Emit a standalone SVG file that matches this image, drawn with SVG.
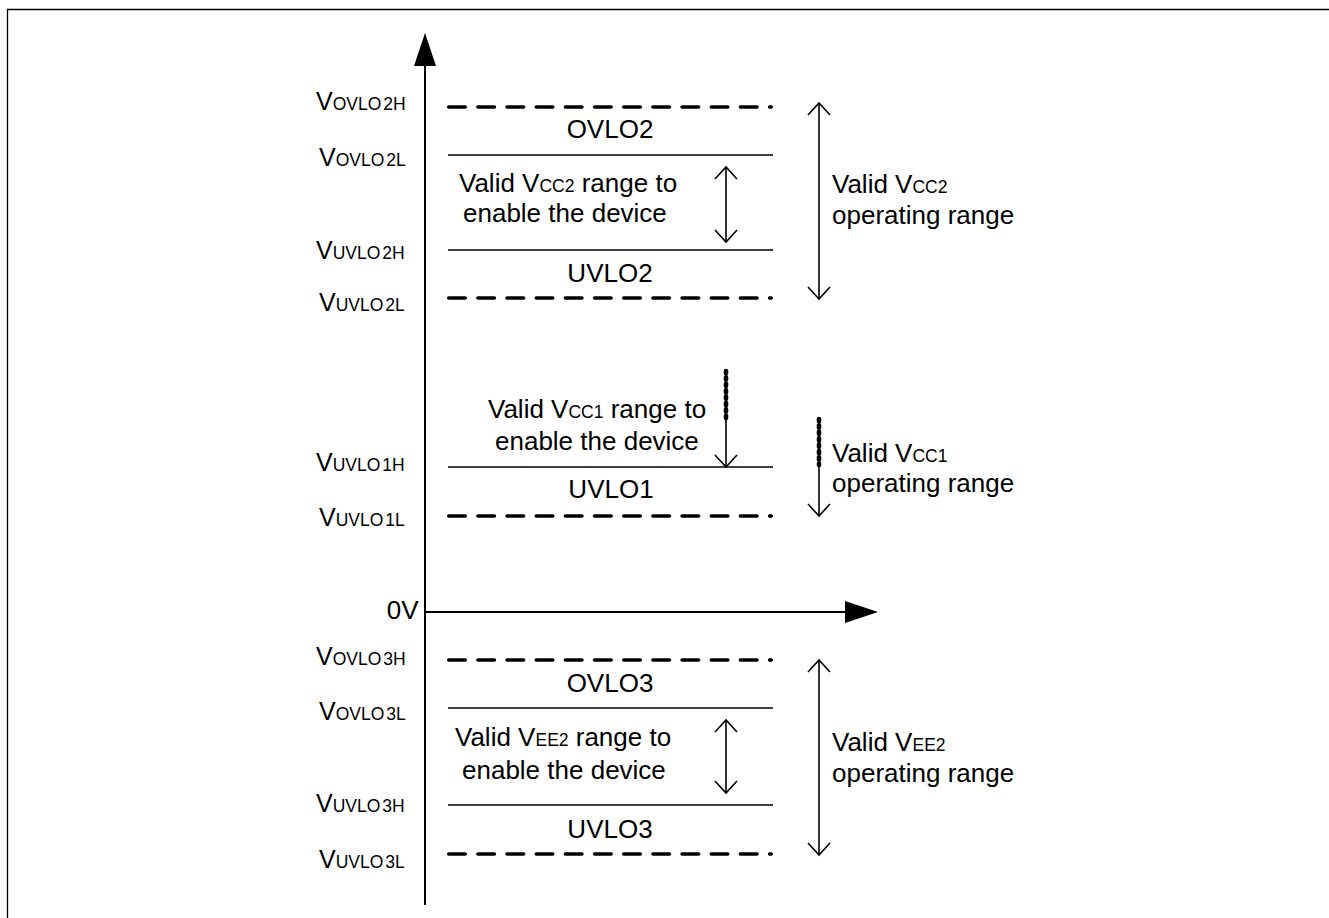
<svg xmlns="http://www.w3.org/2000/svg" width="1329" height="918" viewBox="0 0 1329 918">
<defs>
<style>
text{font-family:"Liberation Sans",Arial,sans-serif;fill:#000}
.t{font-size:26px}
.c{font-size:26px;text-anchor:middle}
.s{font-size:17.5px}
.lv{font-size:25px}
.solid{stroke:#000;stroke-width:1.6;fill:none}
.dash{stroke:#000;stroke-width:3.6;fill:none;stroke-dasharray:16.5 12.67;stroke-linecap:round}
.axis{stroke:#000;stroke-width:2;fill:none}
.arr{stroke:#000;stroke-width:1.6;fill:none}
.beads{stroke:#000;stroke-width:4.6;fill:none;stroke-dasharray:2.2 4.2;stroke-linecap:round}
</style>
<marker id="open" markerUnits="userSpaceOnUse" markerWidth="30" markerHeight="30" viewBox="-15 -15 30 30" refX="0" refY="0" orient="auto-start-reverse" overflow="visible">
<path d="M-12,-11 L0,0 L-12,11" fill="none" stroke="#000" stroke-width="1.6"/>
</marker>
</defs>
<rect width="1329" height="918" fill="#fff"/>
<path d="M7.5,918 V9.5 H1329" fill="none" stroke="#000" stroke-width="1.3"/>

<g id="y-axis">
<line class="axis" x1="425" y1="905" x2="425" y2="64"/>
<polygon points="425,33 414,66 436,66" fill="#000"/>
</g>
<g id="x-axis">
<line class="axis" x1="424" y1="612" x2="846" y2="612"/>
<polygon points="878,612 845,601 845,623" fill="#000"/>
<text class="t" x="418.5" y="619" text-anchor="end">0V</text>
</g>

<g id="vovlo2h">
<line class="dash" x1="448.75" y1="107" x2="771.25" y2="107"/>
<text x="316" y="110"><tspan class="lv">V</tspan><tspan class="s">OVLO</tspan><tspan class="s" dx="2">2H</tspan></text>
</g>
<g id="ovlo2"><text class="c" x="610" y="138">OVLO2</text></g>
<g id="vovlo2l">
<line class="solid" x1="448" y1="155" x2="773" y2="155"/>
<text x="319" y="166"><tspan class="lv">V</tspan><tspan class="s">OVLO</tspan><tspan class="s" dx="2">2L</tspan></text>
</g>
<g id="vcc2-enable">
<text class="t" x="459" y="192">Valid V<tspan class="s">CC2</tspan> range to</text>
<text class="t" x="463" y="222">enable the device</text>
</g>
<g id="vuvlo2h">
<line class="solid" x1="448" y1="250" x2="773" y2="250"/>
<text x="316" y="259"><tspan class="lv">V</tspan><tspan class="s">UVLO</tspan><tspan class="s" dx="2">2H</tspan></text>
</g>
<g id="uvlo2"><text class="c" x="610" y="282">UVLO2</text></g>
<g id="vuvlo2l">
<line class="dash" x1="448.75" y1="298" x2="771.25" y2="298"/>
<text x="319" y="311"><tspan class="lv">V</tspan><tspan class="s">UVLO</tspan><tspan class="s" dx="2">2L</tspan></text>
</g>
<g id="vcc2-operating">
<text class="t" x="832" y="193">Valid V<tspan class="s">CC2</tspan></text>
<text class="t" x="832" y="224">operating range</text>
</g>

<g id="vcc1-enable">
<text class="t" x="488" y="418">Valid V<tspan class="s">CC1</tspan> range to</text>
<text class="t" x="495" y="450">enable the device</text>
</g>
<g id="vuvlo1h">
<line class="solid" x1="448" y1="467" x2="773" y2="467"/>
<text x="316" y="471"><tspan class="lv">V</tspan><tspan class="s">UVLO</tspan><tspan class="s" dx="2">1H</tspan></text>
</g>
<g id="uvlo1"><text class="c" x="611" y="498">UVLO1</text></g>
<g id="vuvlo1l">
<line class="dash" x1="448.75" y1="516" x2="771.25" y2="516"/>
<text x="319" y="526"><tspan class="lv">V</tspan><tspan class="s">UVLO</tspan><tspan class="s" dx="2">1L</tspan></text>
</g>
<g id="vcc1-operating">
<text class="t" x="832" y="462">Valid V<tspan class="s">CC1</tspan></text>
<text class="t" x="832" y="492">operating range</text>
</g>

<g id="vovlo3h">
<line class="dash" x1="448.75" y1="660" x2="771.25" y2="660"/>
<text x="316" y="665"><tspan class="lv">V</tspan><tspan class="s">OVLO</tspan><tspan class="s" dx="2">3H</tspan></text>
</g>
<g id="ovlo3"><text class="c" x="610" y="692">OVLO3</text></g>
<g id="vovlo3l">
<line class="solid" x1="448" y1="708" x2="773" y2="708"/>
<text x="319" y="720"><tspan class="lv">V</tspan><tspan class="s">OVLO</tspan><tspan class="s" dx="2">3L</tspan></text>
</g>
<g id="vee2-enable">
<text class="t" x="455" y="746">Valid V<tspan class="s">EE2</tspan> range to</text>
<text class="t" x="462" y="779">enable the device</text>
</g>
<g id="vuvlo3h">
<line class="solid" x1="448" y1="805" x2="773" y2="805"/>
<text x="316" y="812"><tspan class="lv">V</tspan><tspan class="s">UVLO</tspan><tspan class="s" dx="2">3H</tspan></text>
</g>
<g id="uvlo3"><text class="c" x="610" y="838">UVLO3</text></g>
<g id="vuvlo3l">
<line class="dash" x1="448.75" y1="854" x2="771.25" y2="854"/>
<text x="319" y="868"><tspan class="lv">V</tspan><tspan class="s">UVLO</tspan><tspan class="s" dx="2">3L</tspan></text>
</g>
<g id="vee2-operating">
<text class="t" x="832" y="751">Valid V<tspan class="s">EE2</tspan></text>
<text class="t" x="832" y="782">operating range</text>
</g>

<g id="connectors">
<line class="arr" x1="726" y1="167" x2="726" y2="242" marker-start="url(#open)" marker-end="url(#open)"/>
<line class="arr" x1="819" y1="103" x2="819" y2="299" marker-start="url(#open)" marker-end="url(#open)"/>
<line class="arr" x1="726" y1="370" x2="726" y2="467" marker-end="url(#open)"/>
<line class="beads" x1="726" y1="371" x2="726" y2="421"/>
<line class="arr" x1="819" y1="418" x2="819" y2="516" marker-end="url(#open)"/>
<line class="beads" x1="819" y1="419" x2="819" y2="465"/>
<line class="arr" x1="726" y1="720" x2="726" y2="793" marker-start="url(#open)" marker-end="url(#open)"/>
<line class="arr" x1="819" y1="660" x2="819" y2="855" marker-start="url(#open)" marker-end="url(#open)"/>
</g>
</svg>
